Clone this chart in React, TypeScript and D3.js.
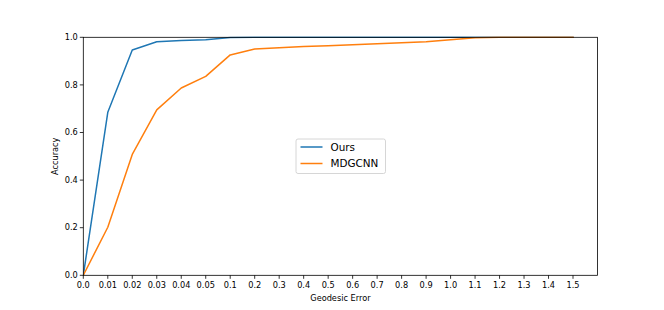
import React from 'react';
import {scaleLinear, line} from 'd3';

// x positions are evenly spaced categories, labelled by error threshold
const tickLabels = ['0.0', '0.01', '0.02', '0.03', '0.04', '0.05', '0.1', '0.2', '0.3', '0.4', '0.5',
    '0.6', '0.7', '0.8', '0.9', '1.0', '1.1', '1.2', '1.3', '1.4', '1.5'];

const oursValues = [0, 0.685, 0.947, 0.981, 0.987, 0.990, 0.999, 1, 1, 1, 1,
    1, 1, 1, 1, 1, 1, 1, 1, 1, 1];

const mdgcnnValues = [0, 0.202, 0.508, 0.695, 0.787, 0.836, 0.926, 0.951, 0.956, 0.961, 0.965,
    0.969, 0.973, 0.977, 0.981, 0.990, 0.998, 1, 1, 1, 1];

const yTicks = [0, 0.2, 0.4, 0.6, 0.8, 1.0];

const series = [
    {name: 'Ours', values: oursValues, color: '#1f77b4'},
    {name: 'MDGCNN', values: mdgcnnValues, color: '#ff7f0e'},
];

const W = 664;
const H = 310;
const left = 83.3, right = 597.5, top = 37.3, bottom = 275.3;
const font = 'DejaVu Sans, sans-serif';

export default function App() {
    const x = scaleLinear().domain([0, 21]).range([left, right]);
    const y = scaleLinear().domain([0, 1]).range([bottom, top]);

    const path = line<number>()
        .x((d, i) => x(i))
        .y(d => y(d));

    return (
        <svg width={W} height={H} style={{position: 'absolute', left: 0, top: 0}} fontFamily={font}>
            <rect width={W} height={H} fill="#fff"/>
            <defs>
                <clipPath id="plot">
                    <rect x={left} y={top - 1} width={right - left} height={bottom - top + 2}/>
                </clipPath>
            </defs>
            <g clipPath="url(#plot)">
                {series.map(s => (
                    <path key={s.name} d={path(s.values) || ''} fill="none" stroke={s.color}
                          strokeWidth={1.5} strokeLinejoin="round" strokeLinecap="square"/>
                ))}
            </g>
            <rect x={left} y={top} width={right - left} height={bottom - top}
                  fill="none" stroke="#000" strokeWidth={0.8}/>
            {tickLabels.map((t, i) => (
                <g key={t} transform={`translate(${x(i)},${bottom})`}>
                    <line y2={3.5} stroke="#000" strokeWidth={0.8}/>
                    <text y={13} textAnchor="middle" fontSize={8.2} fill="#000">{t}</text>
                </g>
            ))}
            {yTicks.map(t => (
                <g key={t} transform={`translate(${left},${y(t)})`}>
                    <line x2={-3.5} stroke="#000" strokeWidth={0.8}/>
                    <text x={-5.5} dy="0.32em" textAnchor="end" fontSize={8.2} fill="#000">{t.toFixed(1)}</text>
                </g>
            ))}
            <text x={(left + right) / 2} y={301} textAnchor="middle" fontSize={8.2}>Geodesic Error</text>
            <text transform={`translate(58,${(top + bottom) / 2}) rotate(-90)`} textAnchor="middle"
                  fontSize={8.2}>Accuracy</text>
            <g transform="translate(296,139)">
                <rect width={89.5} height={34.5} rx={2} fill="#fff" fillOpacity={0.8}
                      stroke="#cccccc" strokeWidth={0.8}/>
                {series.map((s, i) => (
                    <g key={s.name} transform={`translate(0,${8 + i * 16.5})`}>
                        <line x1={4.5} x2={26.5} stroke={s.color} strokeWidth={1.5}/>
                        <text x={34.5} dy="0.36em" fontSize={10.4}>{s.name}</text>
                    </g>
                ))}
            </g>
        </svg>
    );
}
